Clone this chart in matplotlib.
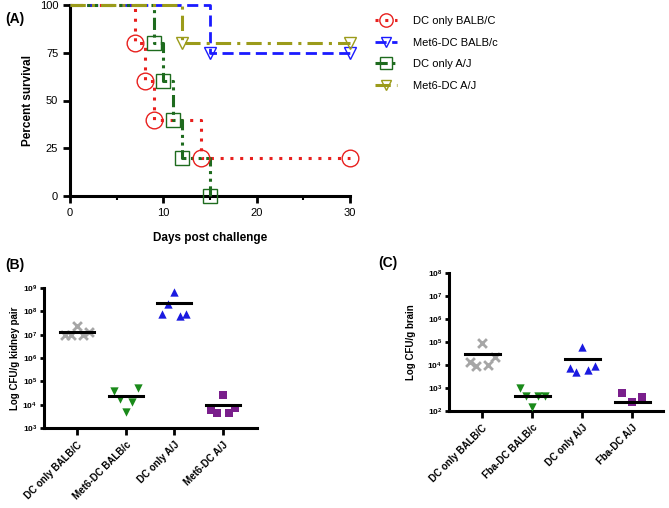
import numpy as np
import matplotlib
matplotlib.use("Agg")
import matplotlib.pyplot as plt
from matplotlib.ticker import FixedLocator, FuncFormatter, NullLocator

plt.rcParams['font.family'] = ['Liberation Sans', 'DejaVu Sans']
plt.rcParams['mathtext.fontset'] = 'custom'
plt.rcParams['mathtext.rm'] = 'Liberation Sans'
plt.rcParams['mathtext.bf'] = 'Liberation Sans:bold'

# ---------------- Data ----------------
# Panel A: survival (Kaplan-Meier steps)
surv_names = ["DC only BALB/C", "Met6-DC BALB/c", "DC only A/J", "Met6-DC A/J"]
dc_balbc_days = [0, 7, 8, 9, 14, 30]
dc_balbc_surv = [100, 80, 60, 40, 20, 20]
met6_balbc_days = [0, 15, 30]
met6_balbc_surv = [100, 75, 75]
dc_aj_days = [0, 9, 10, 11, 12, 15]
dc_aj_surv = [100, 80, 60, 40, 20, 0]
met6_aj_days = [0, 12, 30]
met6_aj_surv = [100, 80, 80]

# Panel B: kidney burden
kidney_groups = ["DC only BALB/C", "Met6-DC BALB/c", "DC only A/J", "Met6-DC A/J"]
kidney_dc_balbc = [1.0e7, 1.0e7, 2.3e7, 1.0e7, 1.3e7]
kidney_met6_balbc = [3.7e4, 1.7e4, 4.9e3, 1.3e4, 5.2e4]
kidney_dc_aj = [7.7e7, 2.0e8, 6.8e8, 6.1e7, 7.7e7]
kidney_met6_aj = [6.2e3, 4.4e3, 2.7e4, 4.4e3, 7.2e3]
kidney_means = [1.3e7, 2.3e4, 2.2e8, 9.5e3]

# Panel C: brain burden
brain_groups = ["DC only BALB/C", "Fba-DC BALB/c", "DC only A/J", "Fba-DC A/J"]
brain_dc_balbc = [1.3e4, 9.5e3, 9.5e4, 1.0e4, 2.2e4]
brain_fba_balbc = [9.8e2, 4.7e2, 1.5e2, 4.7e2, 4.7e2]
brain_dc_aj = [7.2e3, 5.2e3, 5.8e4, 6.1e3, 9.5e3]
brain_fba_aj = [5.9e2, 2.5e2, 4.2e2]
brain_means = [2.9e4, 4.7e2, 1.8e4, 2.5e2]

# ---------------- Figure ----------------
fig = plt.figure(figsize=(6.69, 5.08), dpi=100)

# ---- Panel A ----
axA = fig.add_axes([70/669, 1-196/508, 280/669, 191/508])
styles = [
    dict(color="#e8201e", ls=(0, (1, 2.2)), lw=2.2, marker="o", ms=12),
    dict(color="#1a1aff", ls=(0, (4, 2)), lw=2.0, marker="v", ms=9),
    dict(color="#1e6b1e", ls=(0, (4, 1.5, 1, 1.5, 1, 1.5)), lw=2.2, marker="s", ms=10),
    dict(color="#9b9b1a", ls=(0, (5, 2, 1, 2)), lw=2.2, marker="v", ms=9),
]
series = [(dc_balbc_days, dc_balbc_surv), (met6_balbc_days, met6_balbc_surv),
          (dc_aj_days, dc_aj_surv), (met6_aj_days, met6_aj_surv)]
handles = []
for (d, s), st, name in zip(series, styles, surv_names):
    axA.step(d, s, where="post", color=st["color"], ls=st["ls"], lw=st["lw"],
             clip_on=False, zorder=3)
    axA.plot(d[1:], s[1:], ls="none", marker=st["marker"], ms=st["ms"],
             mfc="none", mec=st["color"], mew=1.0, clip_on=False, zorder=4)
    h, = axA.plot([], [], color=st["color"], ls=st["ls"], lw=st["lw"],
                  marker=st["marker"], ms=st["ms"] * 0.8, mfc="none",
                  mec=st["color"], mew=1.0)
    handles.append(h)

axA.set_xlim(0, 30)
axA.set_ylim(0, 100)
axA.set_xticks([0, 10, 20, 30])
axA.set_yticks([0, 25, 50, 75, 100])
axA.set_xticks([5, 15, 25], minor=True)
axA.tick_params(which="major", length=5, width=2, labelsize=8)
axA.tick_params(which="minor", length=3, width=1.5)
for sp in ["top", "right"]:
    axA.spines[sp].set_visible(False)
for sp in ["left", "bottom"]:
    axA.spines[sp].set_linewidth(2.2)
axA.set_xlabel("Days post challenge", fontsize=8.5, labelpad=10, fontweight="bold")
axA.set_ylabel("Percent survival", fontsize=8.5, labelpad=4, fontweight="bold")
leg = fig.legend(handles, surv_names, loc="upper left",
                 bbox_to_anchor=(365/669, 1-6/508), frameon=False,
                 fontsize=8, handlelength=2.0, labelspacing=1.05,
                 handletextpad=1.4)
fig.text(5/669, 1-19/508, "(A)", fontsize=10, fontweight="bold", va="center")


def log_fmt(v, pos):
    e = int(round(np.log10(v)))
    return r"$\mathbf{10^{%d}}$" % e


def scatter_panel(ax, groups_data, means, names, colors, markers, exps):
    for i, (vals, m, c, mk) in enumerate(zip(groups_data, means, colors, markers)):
        n = len(vals)
        offs = np.linspace(-0.25, 0.25, n) if n > 3 else np.linspace(-0.2, 0.2, n)
        if mk == "x":
            ax.scatter(i + offs, vals, marker=mk, s=40, c=c, linewidths=2.0,
                       zorder=3, clip_on=False)
        else:
            ax.scatter(i + offs, vals, marker=mk, s=36, c=c, linewidths=0,
                       zorder=3, clip_on=False)
        ax.plot([i - 0.35, i + 0.35], [m, m], color="black", lw=2.2, zorder=4)
    ax.set_yscale("log")
    ax.set_ylim(10.0 ** exps[0], 10.0 ** exps[1])
    ax.yaxis.set_major_locator(FixedLocator([10.0 ** e for e in range(exps[0], exps[1] + 1)]))
    ax.yaxis.set_minor_locator(NullLocator())
    ax.yaxis.set_major_formatter(FuncFormatter(log_fmt))
    ax.set_xticks(range(len(names)))
    ax.set_xticklabels(names, rotation=45, ha="right", rotation_mode="anchor",
                       fontsize=7, fontweight="bold")
    ax.tick_params(axis="y", length=3, width=2, labelsize=6, pad=2)
    ax.tick_params(axis="x", length=5, width=2)
    for sp in ["top", "right"]:
        ax.spines[sp].set_visible(False)
    for sp in ["left", "bottom"]:
        ax.spines[sp].set_linewidth(2.2)


grey = "#a6a6a6"
green = "#1a8a1a"
blue = "#1a1ae0"
purple = "#7a1f8c"

# ---- Panel B ----
axB = fig.add_axes([44/669, 1-428/508, 213/669, 140/508])
scatter_panel(axB, [kidney_dc_balbc, kidney_met6_balbc, kidney_dc_aj, kidney_met6_aj],
              kidney_means, kidney_groups, [grey, green, blue, purple],
              ["x", "v", "^", "s"], (3, 9))
axB.set_xlim(-0.68, 3.7)
axB.set_ylabel("Log CFU/g kidney pair", fontsize=7, fontweight="bold", labelpad=2)
fig.text(5/669, 1-265/508, "(B)", fontsize=10, fontweight="bold", va="center")

# ---- Panel C ----
axC = fig.add_axes([449/669, 1-411/508, 214/669, 138/508])
scatter_panel(axC, [brain_dc_balbc, brain_fba_balbc, brain_dc_aj, brain_fba_aj],
              brain_means, brain_groups, [grey, green, blue, purple],
              ["x", "v", "^", "s"], (2, 8))
axC.set_xlim(-0.66, 3.62)
axC.set_ylabel("Log CFU/g brain", fontsize=7, fontweight="bold", labelpad=8)
fig.text(378/669, 1-263/508, "(C)", fontsize=10, fontweight="bold", va="center")

fig.savefig("out.png", dpi=100)
